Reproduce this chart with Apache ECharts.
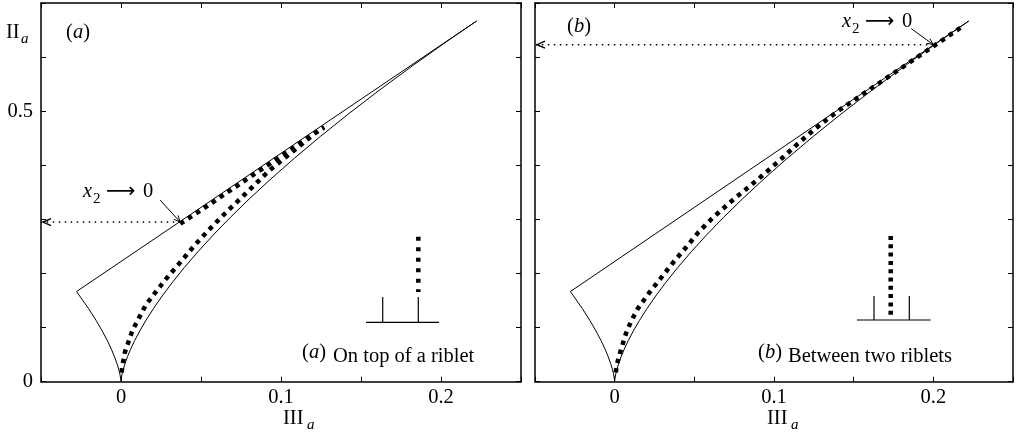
<!DOCTYPE html>
<html><head><meta charset="utf-8">
<script src="https://cdn.jsdelivr.net/npm/echarts@6/dist/echarts.min.js"></script>
<style>html,body{margin:0;padding:0;background:#fff}#c{width:1016px;height:440px}</style>
</head><body><div id="c"></div>
<script>
// ---- tick labels ----
const xTickLabels = ['0', '0.1', '0.2'];
const yTickLabels = ['0', '0.5'];

// ---- boundary of the invariant map (III_a, II_a) ----
const boundIII = [0, -0.00009, -0.00075, -0.00146, -0.00253, -0.00402, -0.006, -0.00854, -0.01172, -0.0156, -0.02025, -0.02778,
  0.22222, 0.20597, 0.18311, 0.162, 0.14258, 0.12478, 0.10853, 0.09375, 0.08038, 0.06834, 0.05757, 0.048, 0.03955, 0.03216,
  0.02575, 0.02025, 0.0156, 0.01172, 0.00854, 0.006, 0.00402, 0.00253, 0.00146, 0.00075, 0.00032, 0.00009, 0];
const boundII = [0, 0.00375, 0.015, 0.0234, 0.03375, 0.0459, 0.06, 0.0759, 0.09375, 0.1134, 0.135, 0.16667,
  0.66667, 0.63375, 0.58594, 0.54, 0.49594, 0.45375, 0.41344, 0.375, 0.33844, 0.30375, 0.27094, 0.24, 0.21094, 0.18375,
  0.15844, 0.135, 0.11344, 0.09375, 0.07594, 0.06, 0.04594, 0.03375, 0.02344, 0.015, 0.00844, 0.00375, 0];

// ---- (a) on top of a riblet ----
const aIII = [0.037, 0.05, 0.065, 0.08, 0.095, 0.11, 0.12, 0.127, 0.124, 0.1154, 0.105, 0.0925, 0.078, 0.066, 0.055, 0.046, 0.038, 0.027, 0.0155, 0.0072, 0.0025, 0.0008, 0.0002];
const aII  = [0.292, 0.317, 0.347, 0.377, 0.407, 0.437, 0.457, 0.470, 0.466, 0.445, 0.420, 0.390, 0.348, 0.314, 0.281, 0.252, 0.224, 0.186, 0.142, 0.095, 0.055, 0.028, 0.010];
const aWall = [0.037, 0.295];

// ---- (b) between two riblets ----
const bIII = [0.217, 0.21, 0.2, 0.19, 0.18, 0.17, 0.16, 0.15, 0.14, 0.132, 0.124, 0.115, 0.105, 0.095, 0.085, 0.075, 0.0619, 0.0525, 0.045, 0.0369, 0.0286, 0.0213, 0.0145, 0.0105, 0.0072, 0.004, 0.0015, 0.0003];
const bII  = [0.654, 0.640, 0.620, 0.600, 0.580, 0.560, 0.540, 0.520, 0.500, 0.482, 0.463, 0.440, 0.413, 0.387, 0.362, 0.338, 0.304, 0.276, 0.249, 0.221, 0.190, 0.163, 0.135, 0.113, 0.090, 0.060, 0.033, 0.010];
const bWall = [0.2, 0.623];

// ---- axis ranges ----
const xMin = -0.05, xMax = 0.25, xStep = 0.05;
const yMin = 0, yMax = 0.7, yStep = 0.1;

const serif = "'Liberation Serif','Times New Roman',serif";
const FS = 20.5;
const zip = (xs, ys) => xs.map((v, i) => [v, ys[i]]);

function xAx(gi, pos, labels) {
  return {
    type: 'value', gridIndex: gi, position: pos, min: xMin, max: xMax, interval: xStep,
    axisLine: { onZero: false, lineStyle: { color: '#000', width: 1.5 } },
    axisTick: { inside: true, length: 5, lineStyle: { color: '#000', width: 1 } },
    splitLine: { show: false },
    axisLabel: {
      show: labels, margin: 5, color: '#000', fontFamily: serif, fontSize: FS,
      formatter: v => { const s = String(Math.round(v * 100) / 100); return xTickLabels.includes(s) ? s : ''; }
    }
  };
}
function yAx(gi, pos, labels) {
  return {
    type: 'value', gridIndex: gi, position: pos, min: yMin, max: yMax, interval: yStep,
    axisLine: { onZero: false, lineStyle: { color: '#000', width: 1.5 } },
    axisTick: { inside: true, length: 5, lineStyle: { color: '#000', width: 1 } },
    splitLine: { show: false },
    axisLabel: {
      show: labels, margin: 8, color: '#000', fontFamily: serif, fontSize: FS,
      formatter: v => { const s = String(Math.round(v * 10) / 10); return yTickLabels.includes(s) ? s : ''; }
    }
  };
}

function panelSeries(gi, III, II, wall) {
  const xi = gi * 2, yi = gi * 2;
  return [
    { type: 'line', xAxisIndex: xi, yAxisIndex: yi, data: zip(boundIII, boundII), symbol: 'none', silent: true,
      lineStyle: { color: '#000', width: 1 }, z: 2 },
    { type: 'line', xAxisIndex: xi, yAxisIndex: yi, data: zip(III, II), symbol: 'none', silent: true,
      lineStyle: { color: '#000', width: 4.5, type: [4.5, 5], cap: 'butt' }, z: 3 },
    { type: 'line', xAxisIndex: xi, yAxisIndex: yi, data: [[wall[0], wall[1]], [xMin, wall[1]]], symbol: 'none', silent: true,
      clip: false, lineStyle: { color: '#000', width: 1.5, type: [1.5, 4.5], cap: 'butt' }, z: 3 }
  ];
}

const chart = echarts.init(document.getElementById('c'), null, { renderer: 'canvas' });
chart.setOption({
  animation: false,
  backgroundColor: '#fff',
  grid: [
    { left: 41, top: 3, width: 480, height: 378.7 },
    { left: 535, top: 3, width: 480, height: 378.7 }
  ],
  xAxis: [xAx(0, 'bottom', true), xAx(0, 'top', false), xAx(1, 'bottom', true), xAx(1, 'top', false)],
  yAxis: [yAx(0, 'left', true), yAx(0, 'right', false), yAx(1, 'left', false), yAx(1, 'right', false)],
  series: [...panelSeries(0, aIII, aII, aWall), ...panelSeries(1, bIII, bII, bWall)]
});

// ---- annotations (text, leaders, arrowheads, riblet sketches) ----
function txt(text, x, y, o) {
  o = o || {};
  return { type: 'text', x: x, y: y, z: 10, style: {
    text: text, fill: '#000', fontFamily: o.ff || serif, fontSize: o.fs || FS, fontStyle: o.it ? 'italic' : 'normal',
    align: o.align || 'left', verticalAlign: 'middle', rich: o.rich } };
}
const paren = (letter, x, y) => txt('{n|(}{i|' + letter + '}{n|)}', x, y, { align: 'center',
  rich: { n: { fontFamily: serif, fontSize: FS }, i: { fontFamily: serif, fontSize: FS, fontStyle: 'italic' } } });
function line(x1, y1, x2, y2, w, dash) {
  return { type: 'line', z: 10, shape: { x1, y1, x2, y2 }, style: { stroke: '#000', lineWidth: w || 1, lineDash: dash || null } };
}
function leader(gi, wall, dx, dy) {
  const p = chart.convertToPixel({ gridIndex: gi }, wall);
  const s = [p[0] + dx, p[1] + dy];
  const ang = Math.atan2(p[1] - s[1], p[0] - s[0]);
  const L = 7, w = 0.42;
  const h1 = [p[0] - L * Math.cos(ang - w), p[1] - L * Math.sin(ang - w)];
  const h2 = [p[0] - L * Math.cos(ang + w), p[1] - L * Math.sin(ang + w)];
  return [line(s[0], s[1], p[0], p[1], 1),
    { type: 'polyline', z: 10, shape: { points: [h1, p, h2] }, style: { stroke: '#000', lineWidth: 1, fill: null } }];
}
function chevron(gi, wall) {
  const p = chart.convertToPixel({ gridIndex: gi }, [xMin, wall[1]]);
  const tip = [p[0] + 2, p[1]];
  return { type: 'polyline', z: 10, shape: { points: [[tip[0] + 8, tip[1] - 3.5], tip, [tip[0] + 8, tip[1] + 3.5]] },
    style: { stroke: '#000', lineWidth: 1.4, fill: null } };
}
function x2label(x, y) {
  return [
    txt('x', x, y, { it: true }),
    txt('2', x + 10, y + 7, { fs: 15 }),
    txt('\u27F6', x + 23, y, { ff: "'DejaVu Sans'", fs: FS }),
    txt('0', x + 60, y)
  ];
}

const g = [
  txt('II', 6, 33), txt('a', 21, 39, { it: true, fs: 15 }),
  paren('a', 78, 33), paren('b', 579, 27),
  paren('a', 314, 353), txt('On top of a riblet', 333, 357),
  paren('b', 770, 353), txt('Between two riblets', 788, 357),
  txt('III', 283, 419), txt('a', 307, 425, { it: true, fs: 15 }),
  txt('III', 767, 419), txt('a', 791, 425, { it: true, fs: 15 }),
  ...x2label(83, 192), ...x2label(842, 22),
  ...leader(0, aWall, -20, -22), ...leader(1, bWall, -22, -16),
  chevron(0, aWall), chevron(1, bWall),
  // riblet sketch (a): measurement on top of a riblet
  line(366, 322.3, 439, 322.3, 1.2), line(382.7, 297, 382.7, 322.3, 1.2), line(418.3, 297, 418.3, 322.3, 1.2),
  line(418.3, 236.7, 418.3, 292, 4.5, [4, 6.5]),
  // riblet sketch (b): measurement between two riblets
  line(857, 320, 930.7, 320, 1.2), line(874, 296, 874, 320, 1.2), line(909.3, 296, 909.3, 320, 1.2),
  line(890.7, 236, 890.7, 319, 4.5, [4, 4.3])
];
chart.setOption({ graphic: g });
</script>
</body></html>
